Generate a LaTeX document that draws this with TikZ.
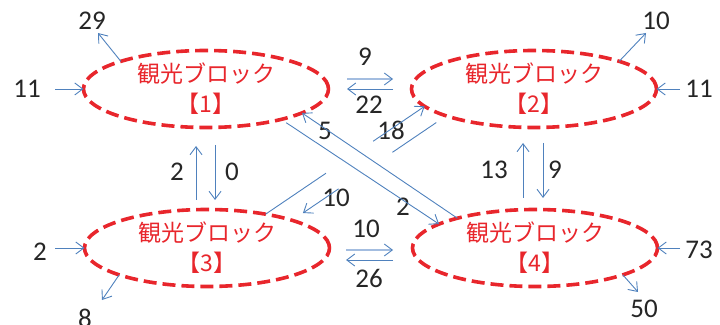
\documentclass[tikz,border=0pt]{standalone}
\usepackage{fontspec}
\newfontfamily\jpfont{Noto Sans CJK JP}
\newfontfamily\numfont{Carlito}
\usepackage{tikz}
\usetikzlibrary{positioning, shapes, arrows.meta}
\definecolor{blockred}{RGB}{232,38,44}
\definecolor{flowblue}{RGB}{79,129,189}
\definecolor{flowlight}{RGB}{163,189,224}
\definecolor{numgray}{RGB}{38,38,38}

\begin{document}
\begin{tikzpicture}[x=1pt, y=1pt, ->, >={Straight Barb[length=8pt,width=12pt]}, line width=0.9pt, flowblue,
  block/.style={ellipse, draw=blockred, line width=3.6pt, dash pattern=on 13pt off 6pt,
    minimum width=245pt, minimum height=77pt, inner sep=0pt, outer sep=0pt, align=center,
    text=blockred, font=\jpfont\fontsize{23}{30}\selectfont},
  num/.style={text=numgray, font=\numfont\fontsize{27}{27}\selectfont, inner sep=0pt},
  lightflow/.style={draw=flowlight, line width=1.7pt,
    -{Straight Barb[length=8pt,width=12pt,line width'=0.9pt,color=flowblue]}}]
  \useasboundingbox (0,0) rectangle (720,324);

  % blocks
  \node[block] (e1) at (206,235) {観光ブロック\\【1】};
  \node[block] (e2) at (534,235) {観光ブロック\\【2】};
  \node[block] (e3) at (207,76) {観光ブロック\\【3】};
  \node[block] (e4) at (535,76) {観光ブロック\\【4】};

  % free ends of in/out flows
  \coordinate (in1) at (55,235);
  \coordinate (out1) at (98,291);
  \coordinate (in2) at (680,235);
  \coordinate (out2) at (646,291);
  \coordinate (in3) at (55,76);
  \coordinate (out3) at (102,24);
  \coordinate (in4) at (680,76);
  \coordinate (out4) at (638,32);

  % numbers
  \node[num] (i1) at (27,235) {11};
  \node[num] (o1) at (92,303) {29};
  \node[num] (i2) at (699,235) {11};
  \node[num] (o2) at (656,303) {10};
  \node[num] (i3) at (40,72) {2};
  \node[num] (o3) at (85,6) {8};
  \node[num] (i4) at (699,74) {73};
  \node[num] (o4) at (644,15) {50};
  \node[num] (f12) at (365,267) {9};
  \node[num] (f21) at (369,219) {22};
  \node[num] (f34) at (366,95) {10};
  \node[num] (f43) at (369,46) {26};
  \node[num] (f31) at (177,152) {2};
  \node[num] (f13) at (232,152) {0};
  \node[num] (f42) at (494,154) {13};
  \node[num] (f24) at (555,154) {9};
  \node[num] (f41) at (325,193) {5};
  \node[num] (f32) at (391,194) {18};
  \node[num] (f23) at (336,126) {10};
  \node[num] (f14) at (403,117) {2};

  \path
    (in1) edge (e1.west)
    (e1.162) edge (out1)
    (in2) edge (e2.east)
    (e2.18) edge (out2)
    (in3) edge (e3.west)
    (e3.197) edge (out3)
    (in4) edge (e4.east)
    (e4.343) edge (out4)
    ([xshift=18.5pt,yshift=10pt]e1.east) edge[lightflow] ([xshift=-18.5pt,yshift=10pt]e2.west)
    ([xshift=-18.5pt]e2.west) edge ([xshift=18.5pt]e1.east)
    ([xshift=16.5pt,yshift=-2pt]e3.east) edge[lightflow] ([xshift=-19.5pt,yshift=-2pt]e4.west)
    ([xshift=-19.5pt,yshift=-12pt]e4.west) edge ([xshift=16.5pt,yshift=-12pt]e3.east)
    ([xshift=-11pt,yshift=9.5pt]e3.north) edge ([xshift=-10pt,yshift=-18.5pt]e1.south)
    ([xshift=9pt,yshift=-17.5pt]e1.south) edge ([xshift=8pt,yshift=9.5pt]e3.north)
    ([xshift=-12pt,yshift=11.5pt]e4.north) edge ([xshift=-11pt,yshift=-15.5pt]e2.south)
    ([xshift=9pt,yshift=-15.5pt]e2.south) edge ([xshift=8pt,yshift=11.5pt]e4.north)
    (e4.159) edge (e1.346)
    (e1.338) edge[shorten <=6pt] (e4.166)
    (e3.30) edge[dash pattern=on 73pt off 57pt on 200pt] (e2.189)
    (e2.197) edge[shorten <=12pt, shorten >=13pt, dash pattern=on 53pt off 65pt on 200pt] (e3.18);
\end{tikzpicture}
\end{document}
